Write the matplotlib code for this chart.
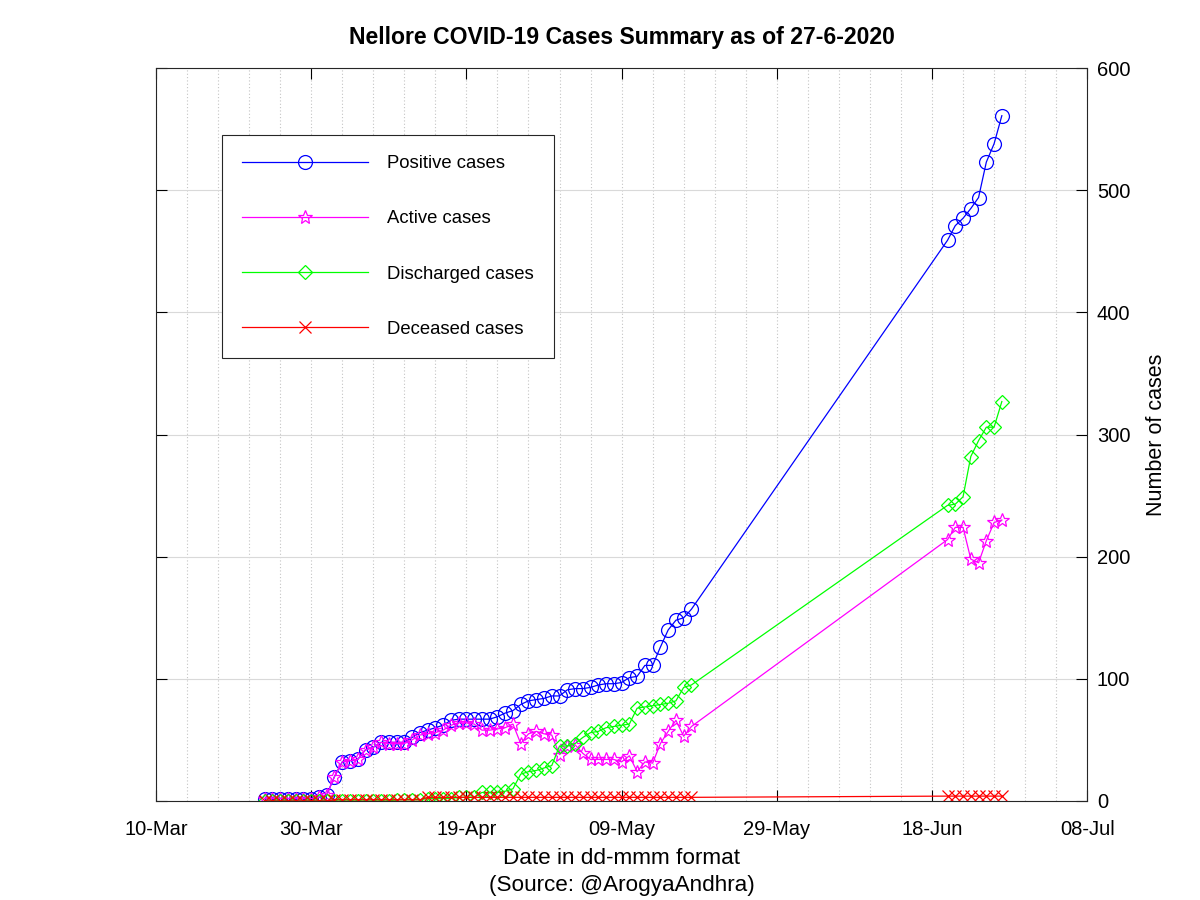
import matplotlib
matplotlib.use("Agg")
import matplotlib.pyplot as plt
import matplotlib.dates as mdates
import pandas as pd
import numpy as np

plt.rcParams['font.family'] = ['Liberation Sans', 'DejaVu Sans']

# Dates: daily 24-Mar-2020 .. 18-May-2020, then 20-Jun-2020 .. 27-Jun-2020
dates_part1 = pd.date_range('2020-03-24', '2020-05-18', freq='D')
dates_part2 = pd.date_range('2020-06-20', '2020-06-27', freq='D')
dates = list(dates_part1) + list(dates_part2)

positive = [2, 2, 2, 2, 2, 2, 2, 3, 5, 20,
            32, 33, 34, 42, 44, 48, 48, 48, 48, 52,
            56, 58, 60, 62, 66, 67, 67, 67, 67, 67,
            69, 72, 74, 79, 82, 83, 84, 86, 86, 91,
            92, 92, 93, 95, 96, 96, 97, 101, 102, 111,
            111, 126, 140, 148, 150, 157,
            459, 471, 477, 485, 494, 523, 538, 561]

active = [2, 2, 2, 2, 2, 2, 2, 3, 5, 20,
          32, 33, 34, 42, 44, 48, 47, 47, 47, 50,
          54, 55, 56, 58, 62, 64, 64, 63, 58, 58,
          59, 60, 63, 47, 55, 57, 55, 54, 38, 45,
          46, 39, 34, 34, 34, 34, 32, 37, 24, 32,
          31, 47, 57, 66, 53, 61,
          214, 224, 224, 198, 195, 213, 228, 230]

discharged = [0, 0, 0, 0, 0, 0, 0, 0, 0, 0,
              0, 0, 0, 0, 0, 0, 0, 1, 1, 1,
              1, 2, 2, 2, 2, 3, 3, 3, 7, 7,
              7, 8, 10, 22, 24, 25, 27, 29, 45, 45,
              47, 52, 56, 57, 60, 61, 62, 63, 76, 77,
              78, 79, 80, 82, 93, 95,
              242, 243, 249, 282, 295, 306, 306, 327]

deceased = [0, 0, 0, 0, 0, 0, 0, 0, 0, 1,
            1, 1, 1, 1, 1, 1, 1, 1, 1, 1,
            1, 3, 3, 3, 3, 3, 3, 3, 3, 3,
            3, 3, 3, 3, 3, 3, 3, 3, 3, 3,
            3, 3, 3, 3, 3, 3, 3, 3, 3, 3,
            3, 3, 3, 3, 3, 3,
            4, 4, 4, 4, 4, 4, 4, 4]

series_labels = ['Positive cases', 'Active cases', 'Discharged cases', 'Deceased cases']
x_ticks = pd.date_range('2020-03-10', '2020-07-08', freq='20D')
x_minor = pd.date_range('2020-03-10', '2020-07-08', freq='4D')
y_ticks = [0, 100, 200, 300, 400, 500, 600]

fig = plt.figure(figsize=(12, 9), dpi=100)
ax = fig.add_axes([0.13, 0.11, 0.776, 0.8144])

ax.plot(dates, positive, color=(0, 0, 1), lw=0.9, marker='o', ms=10,
        mfc='none', mec=(0, 0, 1), mew=0.9, label=series_labels[0])
ax.plot(dates, active, color=(1, 0, 1), lw=0.9, marker='*', ms=10,
        mfc='none', mec=(1, 0, 1), mew=0.9, label=series_labels[1])
ax.plot(dates, discharged, color=(0, 1, 0), lw=0.9, marker='D', ms=7.5,
        mfc='none', mec=(0, 1, 0), mew=0.9, label=series_labels[2])
ax.plot(dates, deceased, color=(1, 0, 0), lw=0.9, marker='x', ms=9,
        mfc='none', mec=(1, 0, 0), mew=0.9, label=series_labels[3])

ax.set_xlim(pd.Timestamp('2020-03-10'), pd.Timestamp('2020-07-08'))
ax.set_ylim(0, 600)
ax.set_xticks(x_ticks)
ax.set_xticks(x_minor, minor=True)
ax.xaxis.set_major_formatter(mdates.DateFormatter('%d-%b'))
ax.set_yticks(y_ticks)

ax.yaxis.tick_right()
ax.yaxis.set_label_position('right')
ax.tick_params(axis='both', which='major', direction='in', length=8,
               labelsize=14.5, top=True, bottom=True, left=True, right=True,
               width=0.8)
ax.tick_params(axis='x', which='major', pad=13.5)
ax.tick_params(axis='y', which='major', pad=7)
ax.tick_params(axis='x', which='minor', length=0)

ax.grid(True, axis='y', which='major', color='#d9d9d9', linestyle='-', linewidth=0.8)
ax.grid(True, axis='x', which='both', color='#c4c4c4', linestyle=(0, (1, 2)), linewidth=0.8)
ax.set_axisbelow(True)

for s in ax.spines.values():
    s.set_color('#262626')
    s.set_linewidth(0.8)

ax.set_title('Nellore COVID-19 Cases Summary as of 27-6-2020', fontsize=16.6,
             fontweight='bold', pad=17)
ax.set_xlabel('Date in dd-mmm format\n(Source: @ArogyaAndhra)', fontsize=16.2,
              labelpad=7, linespacing=1.32)
ax.set_ylabel('Number of cases', fontsize=15.5, labelpad=11)

leg = ax.legend(loc='upper left', bbox_to_anchor=(0.0709, 0.909), fontsize=13.3,
                handlelength=6.8, handletextpad=1.05, labelspacing=2.07,
                borderpad=1.1, borderaxespad=0, fancybox=False, framealpha=1,
                edgecolor='#262626', numpoints=1)
leg.get_frame().set_linewidth(0.8)

fig.savefig('out.png', dpi=100)
